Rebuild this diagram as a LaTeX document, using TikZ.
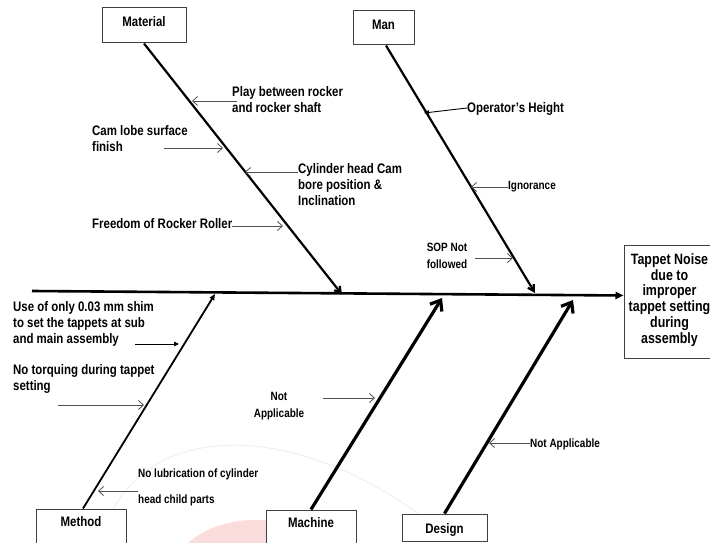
\documentclass[tikz,border=0pt]{standalone}
\usepackage{fontspec}
\setmainfont{Liberation Sans}[FakeStretch=0.83]
\usetikzlibrary{arrows.meta}
\definecolor{wmpink}{RGB}{251,220,220}
\definecolor{subgray}{RGB}{80,80,80}
\tikzset{
  box/.style={draw=black!75, line width=1pt, fill=white, inner sep=0pt},
  lbl/.style={font=\bfseries\fontsize{13.8}{15.6}\selectfont, inner sep=0pt, align=left},
  slbl/.style={font=\bfseries\fontsize{12}{17}\selectfont, inner sep=0pt, align=left},
  elbl/.style={font=\bfseries\fontsize{15}{15.8}\selectfont, inner sep=0pt, align=center},
  bone/.style={line width=2.2pt, -{Straight Barb[length=6pt,width=7pt]}},
  mbone/.style={line width=1.8pt, -{Triangle[length=6pt,width=5pt]}},
  bigbone/.style={line width=3.2pt, -{Straight Barb[length=9pt,width=14pt]}},
  spine/.style={line width=2.6pt, -{Triangle[length=8pt,width=7pt]}},
  subarr/.style={draw=subgray, line width=0.8pt, -{Straight Barb[length=5pt,width=9pt]}},
  subfill/.style={draw=black, line width=0.9pt, -{Triangle[length=5pt,width=4.5pt]}}
}
\begin{document}
\begin{tikzpicture}[x=1pt,y=-1pt]
\useasboundingbox (0,0) rectangle (710,543);
\clip (0,0) rectangle (710,543);
\fill[white] (0,0) rectangle (710,543);
% faint watermark
\fill[wmpink] (255,580) ellipse [x radius=85pt, y radius=60pt];
\draw[black!6, line width=1pt] (100,543) .. controls (130,420) and (290,410) .. (440,530);

% category boxes
\node[box, minimum width=84pt, minimum height=35pt] (matbox) at (144,25.5) {};
\node[lbl] (mat) at (144,21.5) {Material};
\node[box, minimum width=61pt, minimum height=34pt] (manbox) at (383.5,28) {};
\node[lbl] (man) at (383.5,24.5) {Man};
\node[box, minimum width=90pt, minimum height=60pt] (methbox) at (81,539) {};
\node[lbl] (meth) at (81,522) {Method};
\node[box, minimum width=90pt, minimum height=60pt] (machbox) at (311,540) {};
\node[lbl] (mach) at (311,523) {Machine};
\node[box, minimum width=85pt, minimum height=27pt] (desbox) at (444.5,527.5) {};
\node[lbl, anchor=base] (des) at (444.5,533) {Design};

% effect box
\node[box, minimum width=116pt, minimum height=113pt] (effbox) at (682,301.5) {};
\node[elbl] (eff) at (669.5,300) {Tappet Noise\\due to\\improper\\tappet setting\\during\\assembly};

% spine and bones
\coordinate (spstart) at (32,291);
\coordinate (spend) at (623.5,295.5);
\draw[spine] (spstart) -- (spend);
\coordinate (matend) at (342,294.5);
\coordinate (manend) at (535,293);
\coordinate (methend) at (215,294);
\coordinate (machend) at (442,298);
\coordinate (desend) at (573,300);
\draw[bone] (matbox.south) -- (matend);
\draw[bone] ([xshift=2.5pt]manbox.south) -- (manend);
\draw[mbone] ([xshift=2pt]methbox.north) -- (methend);
\draw[bigbone] (machbox.north) -- (machend);
\draw[bigbone] (desbox.north) -- (desend);

% Material causes
\node[lbl, anchor=base west] (play) at (232,112) {Play between rocker\\and rocker shaft};
\coordinate (playA) at (237,101);
\coordinate (playB) at (192,101);
\draw[subarr] (playA) -- (playB);
\node[lbl, anchor=base west] (cam) at (92,151) {Cam lobe surface\\finish};
\coordinate (camA) at (164,148);
\coordinate (camB) at (223,148);
\draw[subarr] (camA) -- (camB);
\node[lbl, anchor=base west] (cyl) at (298,205) {Cylinder head Cam\\bore position \&\\Inclination};
\coordinate (cylA) at (298,172);
\coordinate (cylB) at (245,172);
\draw[subarr] (cylA) -- (cylB);
\node[lbl, anchor=base west] (free) at (92,228) {Freedom of Rocker Roller};
\coordinate (freeB) at (283,226);
\draw[subarr] (free.east |- freeB) -- (freeB);

% Man causes
\node[lbl, anchor=base west] (op) at (467,112) {Operator's Height};
\coordinate (opA) at (467,108);
\coordinate (opB) at (424,113);
\draw[subfill] (opA) -- (opB);
\node[slbl, anchor=base west] (ign) at (508,189.5) {Ignorance};
\coordinate (ignA) at (508,187);
\coordinate (ignB) at (471,187);
\draw[subarr] (ignA) -- (ignB);
\node[slbl, anchor=base, align=center] (sop) at (447,268.5) {SOP Not\\followed};
\coordinate (sopA) at (475,258);
\coordinate (sopB) at (513,258);
\draw[subarr] (sopA) -- (sopB);

% Method causes
\node[lbl, anchor=base west] (shim) at (13,343) {Use of only 0.03 mm shim\\to set the tappets at sub\\and main assembly};
\coordinate (shimA) at (135,344);
\coordinate (shimB) at (179,344);
\draw[subfill] (shimA) -- (shimB);
\node[lbl, anchor=base west] (torq) at (13,390) {No torquing during tappet\\setting};
\coordinate (torqA) at (58,405);
\coordinate (torqB) at (144,405);
\draw[subarr] (torqA) -- (torqB);
\node[slbl, anchor=base west] (lub) at (138,503.5) {No lubrication of cylinder\\[9pt]head child parts};
\coordinate (lubA) at (138,491);
\coordinate (lubB) at (98,491);
\draw[subarr] (lubA) -- (lubB);

% Machine cause
\node[slbl, anchor=base, align=center] (na1) at (279,417.5) {Not\\Applicable};
\coordinate (na1A) at (323,398);
\coordinate (na1B) at (375,398);
\draw[subarr] (na1A) -- (na1B);

% Design cause
\node[slbl, anchor=base west] (na2) at (530,447.5) {Not Applicable};
\coordinate (na2A) at (530,443);
\coordinate (na2B) at (489,443);
\draw[subarr] (na2A) -- (na2B);
\end{tikzpicture}
\end{document}
